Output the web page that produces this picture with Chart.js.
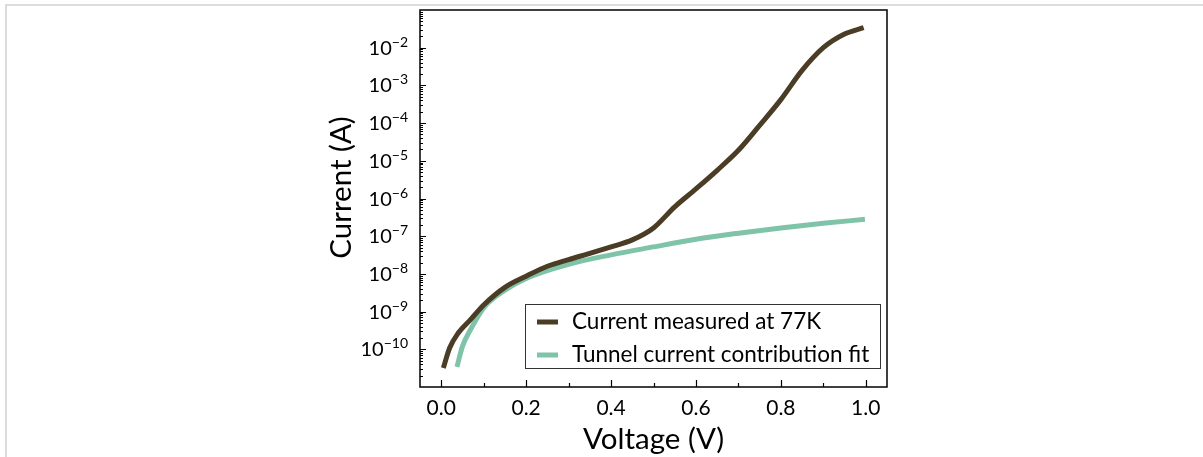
<!DOCTYPE html>
<html>
<head>
<meta charset="utf-8">
<script src="https://cdn.jsdelivr.net/npm/chart.js@4.4.1/dist/chart.umd.min.js"></script>
<style>
  body { margin: 0; background: #fff; }
  #frame { position: absolute; left: 5px; top: 4px; width: 1200px; height: 460px;
           border-top: 2px solid #dcdcdc; border-left: 2px solid #dcdcdc; }
  #wrap { position: absolute; left: 0; top: 0; width: 1203px; height: 457px; }
</style>
</head>
<body>
<div id="frame"></div>
<div id="wrap"><canvas id="myChart" width="1203" height="457"></canvas></div>
<script>
// measured I-V curve at 77K
const measuredV = [0.005, 0.02, 0.04, 0.07, 0.10, 0.15, 0.20, 0.25, 0.30, 0.35, 0.40, 0.45,
  0.50, 0.55, 0.60, 0.65, 0.70, 0.75, 0.80, 0.85, 0.90, 0.95, 0.995]
const measuredI = [3.2e-11, 1.1e-10, 2.7e-10, 6.3e-10, 1.5e-9, 4.4e-9, 8.7e-9, 1.6e-8, 2.4e-8,
  3.5e-8, 5.2e-8, 8.0e-8, 1.66e-7, 6.0e-7, 1.8e-6, 5.6e-6, 1.9e-5, 8.7e-5, 4.2e-4, 2.5e-3,
  1.0e-2, 2.3e-2, 3.4e-2]

// tunnel current fit
const fitV = [0.037, 0.05, 0.07, 0.10, 0.15, 0.20, 0.30, 0.40, 0.50, 0.60, 0.70, 0.80, 0.90, 0.998]
const fitI = [3.4e-11, 1.2e-10, 3.5e-10, 1.26e-9, 3.7e-9, 7.6e-9, 1.8e-8, 3.2e-8, 5.2e-8,
  8.3e-8, 1.2e-7, 1.66e-7, 2.2e-7, 2.8e-7]

const seriesLabels = ['Current measured at 77K', 'Tunnel current contribution fit']
const seriesColors = ['#4a3c25', '#7fc3a9']

const xTicks = [0.0, 0.2, 0.4, 0.6, 0.8, 1.0]
const xTickLabels = ['0.0', '0.2', '0.4', '0.6', '0.8', '1.0']
const yTickExps = [-10, -9, -8, -7, -6, -5, -4, -3, -2]

const xTitle = 'Voltage (V)'
const yTitle = 'Current (A)'

const FONT = 'Lato, "Open Sans", sans-serif'

const toPoints = (xs, ys) => xs.map((v, i) => ({ x: v, y: ys[i] }))

// frame, inward ticks, labels and legend drawn on top of the chart
const axesPlugin = {
  id: 'axesPlugin',
  afterDraw(chart) {
    const ctx = chart.ctx
    const a = chart.chartArea
    const xs = chart.scales.x
    const ys = chart.scales.y
    ctx.save()
    ctx.strokeStyle = '#000'
    ctx.lineWidth = 1.5
    ctx.strokeRect(a.left, a.top, a.right - a.left, a.bottom - a.top)

    ctx.lineWidth = 1.2
    ctx.beginPath()
    // x ticks (major + minor)
    for (let i = 0; i <= 10; i++) {
      const px = Math.round(xs.getPixelForValue(i / 10)) + 0.5
      const len = i % 2 === 0 ? 7 : 4
      ctx.moveTo(px, a.bottom)
      ctx.lineTo(px, a.bottom - len)
    }
    // y ticks (decades + minor)
    for (let d = -11; d <= -2; d++) {
      for (let k = 1; k <= 9; k++) {
        const v = k * Math.pow(10, d)
        if (v <= ys.min || v >= ys.max) continue
        const py = Math.round(ys.getPixelForValue(v)) + 0.5
        const len = k === 1 ? 6 : 3
        ctx.moveTo(a.left, py)
        ctx.lineTo(a.left + len, py)
      }
    }
    ctx.stroke()

    ctx.fillStyle = '#000'
    // x tick labels
    ctx.font = '21px ' + FONT
    ctx.textAlign = 'center'
    ctx.textBaseline = 'middle'
    xTicks.forEach((v, i) => {
      ctx.fillText(xTickLabels[i], xs.getPixelForValue(v), a.bottom + 21)
    })

    // y tick labels as 10^n
    yTickExps.forEach(e => {
      const py = ys.getPixelForValue(Math.pow(10, e))
      const sup = '\u2212' + Math.abs(e)
      ctx.font = '14px ' + FONT
      const supW = ctx.measureText(sup).width
      const right = a.left - 12
      ctx.textAlign = 'left'
      ctx.textBaseline = 'alphabetic'
      ctx.fillText(sup, right - supW, py - 1)
      ctx.font = '20px ' + FONT
      ctx.textAlign = 'right'
      ctx.fillText('10', right - supW, py + 7)
    })

    // axis titles
    ctx.font = '29.5px ' + FONT
    ctx.textAlign = 'center'
    ctx.textBaseline = 'middle'
    ctx.fillText(xTitle, (a.left + a.right) / 2, a.bottom + 52)
    ctx.save()
    ctx.translate(341, (a.top + a.bottom) / 2 - 11)
    ctx.rotate(-Math.PI / 2)
    ctx.fillText(yTitle, 0, 0)
    ctx.restore()

    // legend box
    const lx = 525, ly = 304, lw = 355, lh = 64
    ctx.fillStyle = '#fff'
    ctx.fillRect(lx, ly, lw, lh)
    ctx.strokeStyle = '#333'
    ctx.lineWidth = 1
    ctx.strokeRect(lx + 0.5, ly + 0.5, lw, lh)
    ctx.font = '22.5px ' + FONT
    ctx.textAlign = 'left'
    ctx.textBaseline = 'middle'
    seriesLabels.forEach((lab, i) => {
      const ry = ly + 18 + i * 33
      ctx.strokeStyle = seriesColors[i]
      ctx.lineWidth = 5
      ctx.beginPath()
      ctx.moveTo(537, ry)
      ctx.lineTo(558, ry)
      ctx.stroke()
      ctx.fillStyle = '#000'
      ctx.fillText(lab, 572, ry)
    })
    ctx.restore()
  }
}

const ctx = document.getElementById('myChart').getContext('2d')
const myChart = new Chart(ctx, {
  type: 'line',
  data: {
    datasets: [{
      label: seriesLabels[0],
      data: toPoints(measuredV, measuredI),
      borderColor: seriesColors[0],
      borderWidth: 5,
      pointRadius: 0,
      cubicInterpolationMode: 'monotone',
      borderCapStyle: 'butt'
    }, {
      label: seriesLabels[1],
      data: toPoints(fitV, fitI),
      borderColor: seriesColors[1],
      borderWidth: 5,
      pointRadius: 0,
      cubicInterpolationMode: 'monotone',
      borderCapStyle: 'butt'
    }]
  },
  options: {
    responsive: false,
    animation: false,
    devicePixelRatio: 1,
    layout: { padding: { top: 10, right: 316, left: 0, bottom: 0 } },
    plugins: { legend: { display: false }, tooltip: { enabled: false } },
    scales: {
      x: {
        type: 'linear',
        min: -0.05,
        max: 1.05,
        ticks: { display: false },
        grid: { display: false },
        border: { display: false },
        afterFit: s => { s.height = 70 }
      },
      y: {
        type: 'logarithmic',
        min: 1e-11,
        max: 1e-1,
        ticks: { display: false },
        grid: { display: false },
        border: { display: false },
        afterFit: s => { s.width = 420 }
      }
    }
  },
  plugins: [axesPlugin]
})
</script>
</body>
</html>
